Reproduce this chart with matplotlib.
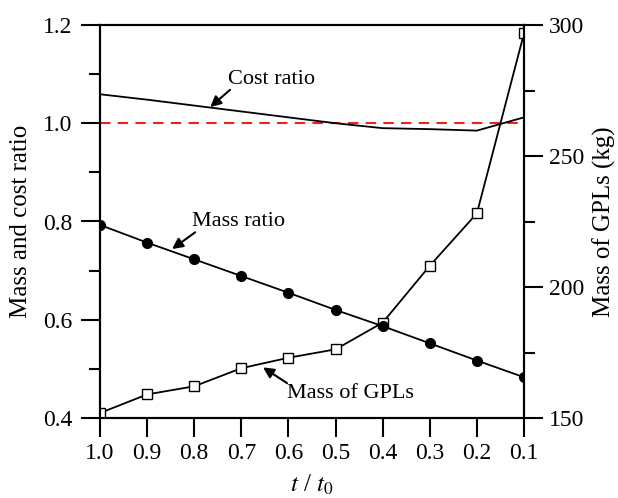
import matplotlib
matplotlib.use('Agg')
import matplotlib.pyplot as plt
from matplotlib.ticker import MultipleLocator

plt.rcParams['font.family'] = ['Liberation Serif', 'DejaVu Serif']
plt.rcParams['mathtext.fontset'] = 'stix'

# time ratio t/t0
t_ratio = [1.0, 0.9, 0.8, 0.7, 0.6, 0.5, 0.4, 0.3, 0.2, 0.1]
cost_ratio = [1.059, 1.048, 1.036, 1.024, 1.012, 1.000, 0.990, 0.988, 0.985, 1.012]
mass_ratio = [0.793, 0.757, 0.723, 0.689, 0.655, 0.620, 0.587, 0.552, 0.517, 0.483]
gpl_mass = [151.9, 159.0, 162.1, 169.0, 173.0, 176.2, 186.4, 208.1, 228.1, 296.8]
reference_level = 1.0


def style_axis(a):
    a.tick_params(which='major', direction='out', length=14, width=1.5, labelsize=17)
    a.tick_params(which='minor', direction='out', length=8, width=1.5)
    for s in a.spines.values():
        s.set_linewidth(1.5)


def main():
    fig = plt.figure(figsize=(6.18, 4.98), dpi=100)
    ax = fig.add_axes([100 / 618, 1 - 418 / 498, 424 / 618, 393 / 498])
    ax2 = ax.twinx()

    # GPL mass on the right axis
    ax2.plot(t_ratio, gpl_mass, color='k', lw=1.3, marker='s', ms=7,
             mfc='white', mec='k', mew=1.0)
    ax2.set_ylim(150, 300)
    ax2.yaxis.set_major_locator(MultipleLocator(50))
    ax2.yaxis.set_minor_locator(MultipleLocator(25))
    ax2.tick_params(axis='y', pad=4)
    ax2.set_ylabel('Mass of GPLs (kg)', fontsize=18, labelpad=6)
    style_axis(ax2)

    # ratios on the left axis, drawn above the twin
    ax.set_zorder(ax2.get_zorder() + 1)
    ax.patch.set_visible(False)
    ax.axhline(reference_level, color='#e8231e', lw=1.5, ls=(0, (5, 3.5)))
    ax.plot(t_ratio, cost_ratio, color='k', lw=1.3)
    ax.plot(t_ratio, mass_ratio, color='k', lw=1.3, marker='o', ms=7)

    ax.set_xlim(1.0, 0.1)
    ax.set_ylim(0.4, 1.2)
    ax.set_xticks(t_ratio)
    ax.set_xticklabels(['%.1f' % v for v in t_ratio])
    ax.yaxis.set_major_locator(MultipleLocator(0.2))
    ax.yaxis.set_minor_locator(MultipleLocator(0.1))
    ax.tick_params(axis='y', pad=6)
    ax.tick_params(axis='x', pad=4)
    ax.set_ylabel('Mass and cost ratio', fontsize=18, labelpad=8)
    ax.set_xlabel('$t$ / $t_0$', fontsize=18, labelpad=6)
    style_axis(ax)

    arrow = dict(arrowstyle='-|>', color='k', lw=1.5, mutation_scale=16,
                 shrinkA=0, shrinkB=0)
    ax.text(0.728, 1.09, 'Cost ratio', fontsize=16, va='center', ha='left')
    ax.annotate('', xy=(0.766, 1.033), xytext=(0.724, 1.068), arrowprops=arrow)
    ax.text(0.805, 0.799, 'Mass ratio', fontsize=16, va='center', ha='left')
    ax.annotate('', xy=(0.847, 0.744), xytext=(0.798, 0.778), arrowprops=arrow)
    ax.text(0.603, 0.450, 'Mass of GPLs', fontsize=16, va='center', ha='left')
    ax.annotate('', xy=(0.654, 0.503), xytext=(0.603, 0.471), arrowprops=arrow)

    fig.savefig('out.png', dpi=100)


if __name__ == '__main__':
    main()
